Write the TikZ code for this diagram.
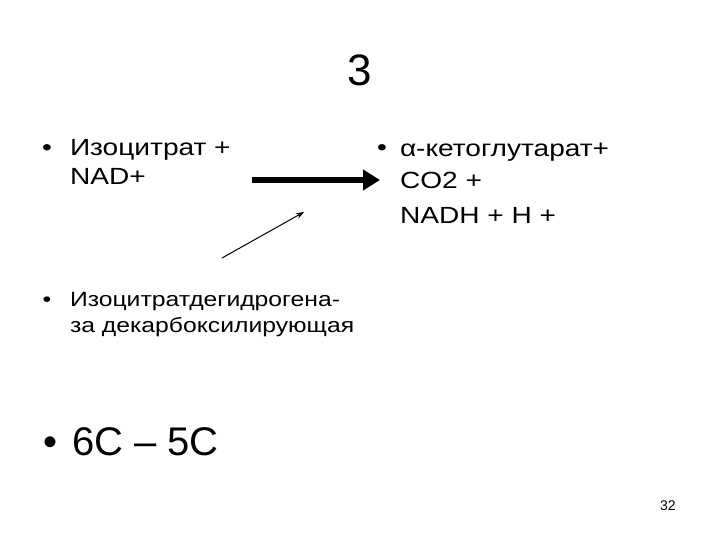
\documentclass[tikz,border=0pt]{standalone}
\usepackage{fontspec}
\setmainfont{Liberation Sans}
\newfontfamily\widefont[FakeStretch=1.2]{Liberation Sans}
\usetikzlibrary{arrows.meta}
\tikzset{
  txt/.style={anchor=base west, inner sep=0pt, outer sep=0pt},
  bul/.style={anchor=base, inner sep=0pt, outer sep=0pt},
  body/.style={font=\widefont\fontsize{23.4}{28}\selectfont},
  enz/.style={font=\widefont\fontsize{20.6}{26}\selectfont},
  thick arrow/.style={line width=6pt, -{Triangle[length=17pt,width=20pt]}},
  thin arrow/.style={line width=1pt, -{Stealth[length=8pt,width=6pt]}}
}
\begin{document}
\begin{tikzpicture}[x=1pt,y=-1pt]
\useasboundingbox (0,0) rectangle (720,540);
% title
\node[bul,font=\fontsize{44}{48}\selectfont] (title) at (360,86) {3};
% left reactant
\node[bul,body] (b1) at (47,156) {•};
\node[txt,body] (l1) at (70,156) {Изоцитрат +};
\node[txt,body] (l2) at (70,185) {NAD+};
% right products
\node[bul,body] (b2) at (382,156) {•};
\node[txt,body] (r1) at (400,157) {α-кетоглутарат+};
\node[txt,body] (r2) at (400,189) {CO2 +};
\node[txt,body] (r3) at (400,223) {NADH + H +};
% arrows
\coordinate (a1) at (252,180);
\coordinate (a2) at (380,180);
\draw[thick arrow] (a1) -- (a2);
\coordinate (e1) at (222,258);
\coordinate (e2) at (304,212);
\draw[thin arrow] (e1) -- (e2);
% enzyme
\node[bul,enz] (b3) at (47,306) {•};
\node[txt,enz] (en1) at (70,306) {Изоцитратдегидрогена-};
\node[txt,enz] (en2) at (70,332) {за декарбоксилирующая};
% 6C-5C
\node[bul,font=\fontsize{40}{44}\selectfont] (b4) at (51,455) {•};
\node[txt,font=\fontsize{40}{44}\selectfont] (c) at (72,455) {6C – 5C};
% page number
\node[txt,font=\fontsize{14}{16}\selectfont] (pg) at (660,510) {32};
\end{tikzpicture}
\end{document}
